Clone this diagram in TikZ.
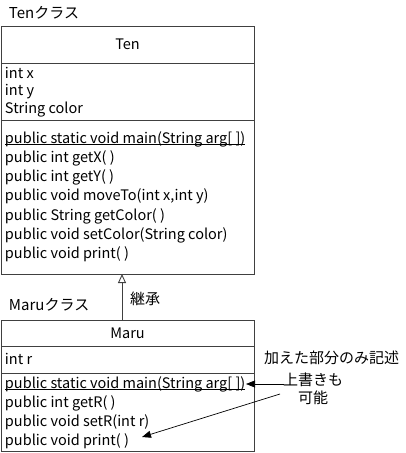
\documentclass[tikz,border=0pt]{standalone}
\usepackage{fontspec}
\setmainfont{Noto Sans CJK JP}
\usetikzlibrary{arrows.meta}
\begin{document}
\begin{tikzpicture}[x=1pt,y=-1pt,
  every node/.style={inner sep=0pt, outer sep=0pt, font=\fontsize{14.5}{16}\selectfont},
  jp/.style={font=\fontsize{15}{17}\selectfont},
  boxline/.style={draw=black!75, line width=0.9pt},
  member/.style={anchor=west},
  ptr/.style={draw=black, line width=0.7pt, -{Triangle[length=9pt,width=7pt]}}]
\useasboundingbox (0,0) rectangle (406,453);
% Ten class
\node[anchor=west, jp] (tenlabel) at (9,13) {Tenクラス};
\node[boxline, minimum width=253, minimum height=248, anchor=north west] (ten) at (1,26) {};
\draw[boxline] (1,63) -- (254,63);
\draw[boxline] (1,120) -- (254,120);
\node (tentitle) at (127.5,44) {Ten};
\node[member] (tx) at (5,73) {int x};
\node[member] (ty) at (5,91.5) {int y};
\node[member] (tc) at (5,110) {String color};
\node[member] (tm1) at (5,139) {public static void main(String arg[ ])};
\draw[line width=0.7pt] ([yshift=-1.5pt]tm1.base west) -- ([yshift=-1.5pt]tm1.base east);
\node[member] (tm2) at (5,158) {public int getX( )};
\node[member] (tm3) at (5,177) {public int getY( )};
\node[member] (tm4) at (5,196.5) {public void moveTo(int x,int y)};
\node[member] (tm5) at (5,216) {public String getColor( )};
\node[member] (tm6) at (5,235) {public void setColor(String color)};
\node[member] (tm7) at (5,254) {public void print( )};
% Maru class
\node[anchor=west, jp] (marulabel) at (9,305) {Maruクラス};
\node[boxline, minimum width=253, minimum height=131, anchor=north west] (maru) at (1,320) {};
\draw[boxline] (1,346) -- (254,346);
\draw[boxline] (1,373) -- (254,373);
\node (marutitle) at (127.5,333) {Maru};
\node[member] (mr) at (5,359) {int r};
\node[member] (mm1) at (5,384) {public static void main(String arg[ ])};
\draw[line width=0.7pt] ([yshift=-1.5pt]mm1.base west) -- ([yshift=-1.5pt]mm1.base east);
\node[member] (mm2) at (5,403) {public int getR( )};
\node[member] (mm3) at (5,422) {public void setR(int r)};
\node[member] (mm4) at (5,441) {public void print( )};
% inheritance
\coordinate (inhtop) at (122,274);
\coordinate (inhbot) at (122,320);
\draw[draw=black!75, line width=0.9pt, -{Triangle[open,length=9pt,width=8pt]}] (inhbot) -- (inhtop);
\node[anchor=west, jp] (keisho) at (130,299) {継承};
% notes
\node[anchor=west, jp] (note1) at (264,358) {加えた部分のみ記述};
\node[jp] (note2) at (313,380) {上書きも};
\node[jp] (note3) at (313,398) {可能};
\coordinate (a1s) at (284,384);
\coordinate (a1e) at (246,384);
\coordinate (a2s) at (280,394);
\coordinate (a2e) at (142,437);
\draw[ptr] (a1s) -- (a1e);
\draw[ptr] (a2s) -- (a2e);
\end{tikzpicture}
\end{document}
